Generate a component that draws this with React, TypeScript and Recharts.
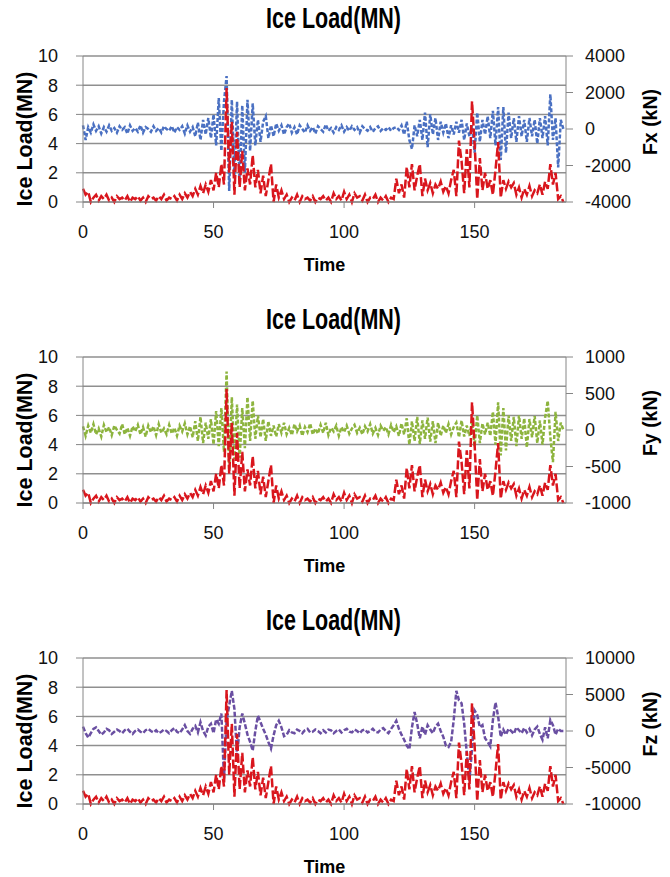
import { LineChart, Line, XAxis, YAxis, CartesianGrid } from 'recharts';

// ice load (MN), one sample per time unit, t = 0..184
const ICE_LOAD = [
  0.9, 0.5, 0.7, 0.0, 0.3, 0.5, 0.1, 0.4, 0.2, 0.5,
  0.1, 0.3, 0.0, 0.4, 0.2, 0.3, 0.1, 0.4, 0.0, 0.3,
  0.2, 0.4, 0.1, 0.3, 0.0, 0.4, 0.2, 0.3, 0.1, 0.4,
  0.2, 0.5, 0.1, 0.3, 0.2, 0.4, 0.1, 0.5, 0.2, 0.6,
  0.3, 0.7, 0.4, 0.9, 0.5, 1.1, 0.6, 1.2, 0.7, 1.5,
  0.8, 2.0, 1.0, 2.6, 1.2, 7.8, 2.0, 5.5, 0.5, 4.8,
  1.0, 3.5, 0.8, 2.3, 1.2, 3.2, 1.0, 2.2, 0.6, 1.8,
  0.4, 1.5, 2.6, 0.0, 1.2, 0.3, 0.8, 0.2, 0.5, 0.0,
  0.3, 0.1, 0.5, 0.0, 0.4, 0.2, 0.3, 0.1, 0.4, 0.0,
  0.3, 0.2, 0.4, 0.1, 0.3, 0.0, 0.6, 0.2, 0.4, 0.1,
  0.7, 0.2, 0.5, 0.0, 0.6, 0.3, 0.4, 0.1, 0.5, 0.0,
  0.3, 0.2, 0.5, 0.0, 0.3, 0.1, 0.4, 0.0, 0.3, 0.2,
  1.6, 0.6, 1.2, 0.3, 2.4, 1.0, 2.6, 0.8, 1.8, 2.6,
  0.4, 1.6, 0.8, 1.3, 0.6, 1.2, 0.9, 1.4, 0.7, 1.1,
  0.6, 1.5, 2.2, 0.4, 4.2, 2.8, 0.6, 3.6, 1.0, 6.9,
  4.0, 0.2, 3.0, 0.8, 2.0, 0.9, 1.5, 0.5, 2.2, 4.1,
  0.3, 1.5, 0.9, 1.4, 1.0, 1.3, 0.5, 1.0, 0.3, 0.9,
  0.5, 1.1, 0.4, 0.8, 0.6, 1.2, 0.5, 1.4, 0.9, 2.6,
  1.2, 2.0, 0.2, 0.4, 0.0,
];

// Fx (kN)
const FX = [
  200, -600, 100, -200, 250, -100, 150, -250, 100, -150,
  200, -100, 50, -200, 150, -50, 100, -250, 200, -100,
  50, -150, 200, -200, 100, 0, -150, 150, -100, 50,
  -200, 150, 0, -100, 150, -200, 100, -50, 150, -250,
  200, -150, 100, -400, 350, -600, 500, -300, 600, -500,
  800, -900, 1700, -1200, 1500, 2900, -3400, 1600, -2600, 1500,
  -3000, 1300, -2400, 1600, -1200, 1400, -900, 500, -700, 400,
  700, -500, 200, -400, 300, -100, 200, -300, 100, 300,
  -200, 100, -300, 200, 0, -200, 200, -100, 100, -250,
  150, 0, -150, 250, -100, 50, -200, 100, -50, 200,
  -150, 100, -100, 150, -50, 100, -200, 150, 0, -100,
  100, -150, 50, 150, -100, 50, -50, 100, -100, 50,
  100, -50, 200, -300, 400, -600, -1100, 200, -400, 500,
  -600, 900, -1000, 800, -300, 600, -600, 400, -200, 300,
  -500, 200, -300, 400, -200, 500, -600, 300, -400, 200,
  -1300, 900, -700, 500, -300, 700, -500, 1000, -900, 1200,
  -1700, 1200, -1300, 900, -500, 600, -700, 700, -400, 500,
  -700, 600, -400, 500, -800, 600, -500, 700, -900, 1900,
  -600, 600, -2100, 500, 0,
];

// Fy (kN)
const FY = [
  50, -80, 60, -40, 80, -60, 20, -90, 70, -30,
  40, -70, 60, 0, -50, 80, -60, 30, -80, 50,
  -20, 70, -60, 40, -90, 60, -30, 50, -70, 80,
  -40, 20, -60, 70, -50, 30, -80, 60, -20, 90,
  -60, 50, -100, 120, -150, 180, -180, 100, -120, 150,
  -200, 260, -220, 300, -300, 800, -550, 450, -400, 350,
  -380, 300, -250, 450, -150, 400, -120, 200, -100, 150,
  -150, 120, -80, 60, -90, 80, -40, 100, -60, 30,
  -70, 80, -20, 60, -80, 40, -30, 90, -60, 20,
  -50, 70, -40, 100, -70, 30, -20, 60, -80, 40,
  -30, 60, -50, 20, 70, -40, 30, -60, 50, -20,
  80, -50, 30, -70, 60, -10, 40, -60, 70, -30,
  50, -80, 90, -60, 160, -200, 120, -150, 180, -190,
  130, -120, 170, -160, 120, -180, 100, -80, 60, -40,
  80, -60, 40, 100, -100, 130, -90, 60, -80, 120,
  -220, 200, -180, 90, -60, 100, -80, 250, -200, 380,
  -350, 300, -280, 200, -150, 180, -220, 200, -120, 160,
  -240, 150, -100, 190, -180, 130, -200, 170, 400, -100,
  -440, 250, -150, 100, 0,
];

// Fz (kN)
const FZ = [
  600, -300, -900, -300, 300, 500, 0, -500, -200, 300,
  100, -400, -100, 200, 0, -300, 100, 300, -100, -400,
  0, 200, -100, -300, 100, 300, 0, -200, 100, -300,
  -100, 200, 0, -300, 100, 400, -100, -300, 200, 800,
  0, -400, 300, 700, -200, 1200, 0, -600, 600, 1000,
  -300, 1600, 1000, 2400, -6500, 1500, 3500, 5500, 3000, -3400,
  500, 2400, 1000, -500, -1500, -2700, 0, 2100, 1200, 300,
  -500, -1500, -2400, -600, 800, 1400, 500, -700, -500, 100,
  -200, -300, 200, 0, -300, 100, 300, -200, -100, 200,
  0, -300, 100, -200, 200, 100, -300, 0, 200, -200,
  100, 300, -100, -200, 200, 0, -300, 100, 200, -200,
  0, 300, -100, -200, 200, 400, 0, -300, 300, 800,
  1400, 300, -500, -1200, -2000, -2500, 500, 2600, 1000, -1000,
  600, -500, 800, 200, -300, 600, 1000, 0, -800, -2000,
  -2200, -1500, 1500, 5500, 4200, 3800, 1000, -3000, -6800, -2500,
  2800, 2200, 500, 800, -1000, -1500, -2100, 1500, 3900, 2000,
  -800, 200, -500, 300, 0, -400, 500, 100, -300, 400,
  -200, 300, -600, 200, 600, -400, -1200, 500, -1000, 1500,
  800, -500, 300, 0, 0,
];

const TIME_TICKS = [0, 50, 100, 150];
const LOAD_TICKS = [0, 2, 4, 6, 8, 10];

const PANELS = [
  { key: 'fx', values: FX, label: 'Fx (kN)', color: '#4a70c2', dash: '4 2', ticks: [-4000, -2000, 0, 2000, 4000] },
  { key: 'fy', values: FY, label: 'Fy (kN)', color: '#8db43e', dash: '4 2', ticks: [-1000, -500, 0, 500, 1000] },
  { key: 'fz', values: FZ, label: 'Fz (kN)', color: '#6a4fa2', dash: '5 2', ticks: [-10000, -5000, 0, 5000, 10000] },
];

const FONT = "'Liberation Sans', Arial, sans-serif";
const AXIS_GREY = '#868686';
const ICE_RED = '#d9161d';

function TimeLabel({ viewBox }: any) {
  return (
    <text x={viewBox.x + viewBox.width / 2} y={viewBox.y + 69} textAnchor="middle"
      fontFamily={FONT} fontWeight="bold" fontSize={18} fill="#000">
      Time
    </text>
  );
}

function LeftLabel({ viewBox }: any) {
  const cx = 32;
  const cy = viewBox.y + 83;
  return (
    <text x={cx} y={cy} transform={`rotate(-90 ${cx} ${cy})`} textAnchor="middle"
      fontFamily={FONT} fontWeight="bold" fontSize={21.5} fill="#000">
      Ice Load(MN)
    </text>
  );
}

function RightLabel({ viewBox, text }: any) {
  const cx = 657;
  const cy = viewBox.y + 66;
  return (
    <text x={cx} y={cy} transform={`rotate(-90 ${cx} ${cy})`} textAnchor="middle"
      fontFamily={FONT} fontWeight="bold" fontSize={19.5} fill="#000">
      {text}
    </text>
  );
}

function Panel({ panel, top }: { panel: typeof PANELS[number]; top: number }) {
  const data = ICE_LOAD.map((v, i) => ({ t: i, ice: v, force: panel.values[i] }));
  const lim = panel.ticks[panel.ticks.length - 1];
  return (
    <div style={{ position: 'absolute', left: 0, top, width: 670, height: 301 }}>
      <svg width={670} height={40} style={{ position: 'absolute', left: 0, top: 0 }}>
        <text transform="translate(333.5 28.3) scale(1 1.35)" textAnchor="middle"
          fontFamily={FONT} fontWeight="bold" fontSize={21.5} fill="#000">
          Ice Load(MN)
        </text>
      </svg>
      <LineChart width={670} height={301} data={data}
        margin={{ top: 56, right: 0, left: 0, bottom: 59 }}
        style={{ fontFamily: FONT }}>
        <CartesianGrid yAxisId="left" vertical={false} stroke="#8f8f8f" strokeWidth={1.5} />
        <XAxis dataKey="t" type="number" domain={[0, 185]} ticks={TIME_TICKS}
          height={40} tickSize={6} tickMargin={17} stroke={AXIS_GREY}
          tick={{ fontSize: 18, fill: '#111' }} label={<TimeLabel />} />
        <YAxis yAxisId="left" domain={[0, 10]} ticks={LOAD_TICKS} width={83}
          tickSize={7} tickMargin={18} stroke={AXIS_GREY}
          tick={{ fontSize: 18, fill: '#111' }} label={<LeftLabel />} />
        <YAxis yAxisId="right" orientation="right" domain={[-lim, lim]} ticks={panel.ticks}
          width={104} tickSize={7} tickMargin={12} stroke={AXIS_GREY}
          tick={{ fontSize: 18, fill: '#111', textAnchor: 'start' }}
          label={<RightLabel text={panel.label} />} />
        <Line yAxisId="right" type="linear" dataKey="force" stroke={panel.color}
          strokeWidth={2.5} strokeDasharray={panel.dash} dot={false} isAnimationActive={false} />
        <Line yAxisId="left" type="linear" dataKey="ice" stroke={ICE_RED}
          strokeWidth={2.5} strokeDasharray="9 3" dot={false} isAnimationActive={false} />
      </LineChart>
    </div>
  );
}

export default function App() {
  return (
    <div style={{ position: 'absolute', left: 0, top: 0, width: 670, height: 877, background: '#fff' }}>
      {PANELS.map((p, i) => (
        <Panel key={p.key} panel={p} top={[0, 301, 602][i]} />
      ))}
    </div>
  );
}
